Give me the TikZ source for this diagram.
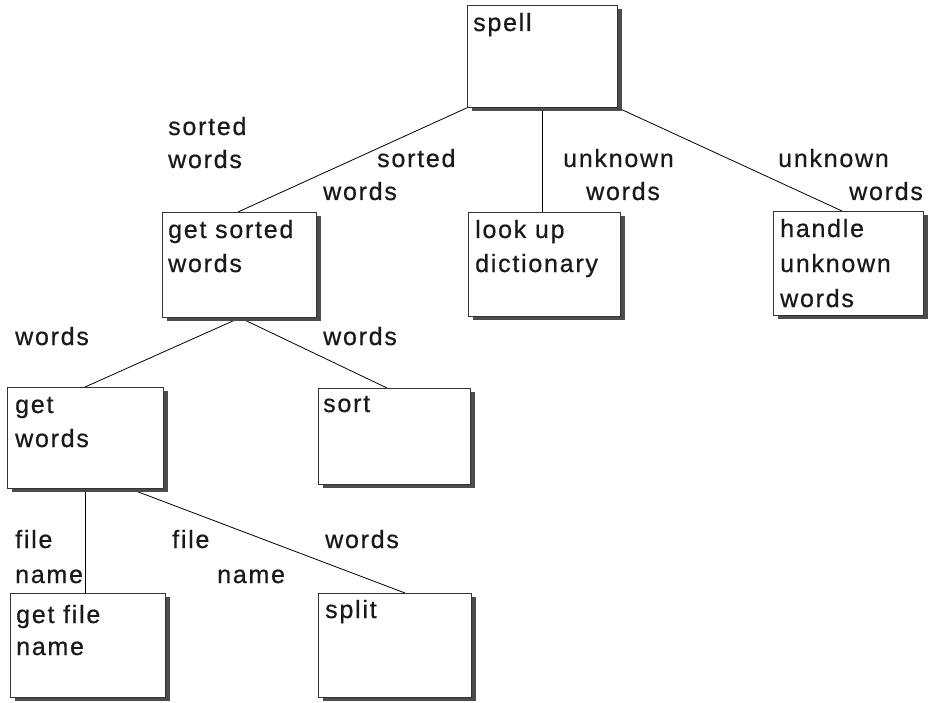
\documentclass[tikz,border=0pt]{standalone}
\usepackage{fontspec}
\setmainfont{Liberation Sans}[LetterSpace=7,FakeBold=0.6]
\usetikzlibrary{shadows,calc,backgrounds}
\begin{document}
\begin{tikzpicture}[x=1pt,y=-1pt,
  box/.style={draw=black!80,line width=0.8pt,fill=white,rectangle,inner sep=0pt,anchor=north west,
    drop shadow={shadow xshift=5pt,shadow yshift=-4pt,fill=black!70,opacity=1}},
  txt/.style={anchor=base west,inner sep=0pt,text=black!90,font=\fontsize{25}{34}\selectfont},
  conn/.style={draw=black,line width=0.8pt}]
\useasboundingbox (0,0) rectangle (928,703);
% boxes
\node[box,minimum width=150pt,minimum height=102pt] (spell) at (467,5) {};
\node[box,minimum width=154pt,minimum height=105pt] (gsw) at (162,212) {};
\node[box,minimum width=152pt,minimum height=104pt] (lud) at (468,212) {};
\node[box,minimum width=150pt,minimum height=104pt] (huw) at (773,211) {};
\node[box,minimum width=156pt,minimum height=101pt] (gw) at (7,387) {};
\node[box,minimum width=152pt,minimum height=96pt] (sort) at (318,388) {};
\node[box,minimum width=155pt,minimum height=104pt] (gfn) at (10,593) {};
\node[box,minimum width=153pt,minimum height=104pt] (split) at (318,593) {};
% box texts
\node[txt] (t1) at (473,31) {spell};
\node[txt] (t2) at (168,238) {get sorted};
\node[txt] (t3) at (168,272) {words};
\node[txt] (t4) at (475,238) {look up};
\node[txt] (t5) at (475,272) {dictionary};
\node[txt] (t6) at (780,237) {handle};
\node[txt] (t7) at (780,272) {unknown};
\node[txt] (t8) at (780,307) {words};
\node[txt] (t9) at (15,413) {get};
\node[txt] (t10) at (15,447) {words};
\node[txt] (t11) at (323,412) {sort};
\node[txt] (t12) at (16,623) {get file};
\node[txt] (t13) at (16,655) {name};
\node[txt] (t14) at (325,618) {split};
% connector labels
\node[txt] (l1) at (168,135) {sorted};
\node[txt] (l2) at (168,168) {words};
\node[txt] (l3) at (377,167) {sorted};
\node[txt] (l4) at (323,200) {words};
\node[txt] (l5) at (563,167) {unknown};
\node[txt] (l6) at (586,200) {words};
\node[txt] (l7) at (778,167) {unknown};
\node[txt] (l8) at (849,200) {words};
\node[txt] (l9) at (15,345) {words};
\node[txt] (l10) at (323,345) {words};
\node[txt] (l11) at (15,548) {file};
\node[txt] (l12) at (15,583) {name};
\node[txt] (l13) at (172,548) {file};
\node[txt] (l14) at (217,583) {name};
\node[txt] (l15) at (325,548) {words};
% connectors
\coordinate (gswtop) at ($(gsw.north west)+(76,0)$);
\coordinate (gswbot) at ($(gsw.south west)+(78,0)$);
\coordinate (gwtop) at ($(gw.north west)+(78,0)$);
\coordinate (gwbot) at ($(gw.south west)+(78,0)$);
\coordinate (gwbot2) at ($(gw.south west)+(123,0)$);
\coordinate (ludtop) at ($(lud.north)+(-2,0)$);
\begin{scope}[on background layer]
\draw[conn] (spell.south west) -- (gswtop);
\draw[conn] (spell.south -| ludtop) -- (ludtop);
\draw[conn] (spell.south east) -- ($(huw.north west)+(69,0)$);
\draw[conn] (gswbot) -- (gwtop);
\draw[conn] (gswbot) -- ($(sort.north west)+(69,0)$);
\draw[conn] (gwbot) -- (gwbot |- gfn.north);
\draw[conn] (gwbot2) -- ($(split.north west)+(87,0)$);
\end{scope}
\end{tikzpicture}
\end{document}
